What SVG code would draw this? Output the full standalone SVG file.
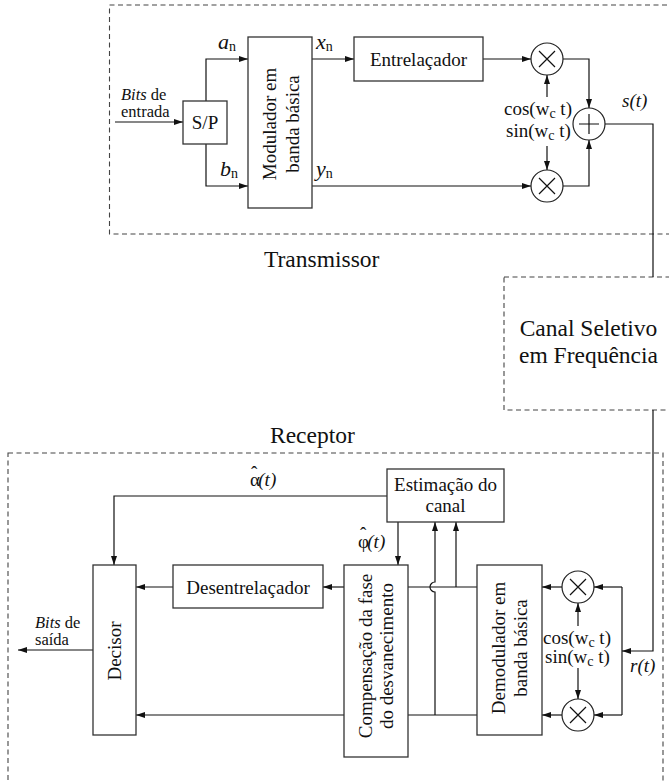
<svg xmlns="http://www.w3.org/2000/svg" width="669" height="783" viewBox="0 0 669 783">
<style>
text{font-family:"Liberation Serif","Times New Roman",serif;fill:#111}
.t{font-size:19px}
.s{font-size:16.5px}
.b{font-size:23.5px}
.i{font-style:italic}
.v{font-size:22px;font-style:italic}
.sub{font-size:14px;font-style:normal}
.box{fill:#fff;stroke:#333;stroke-width:1.3}
.dash{fill:none;stroke:#444;stroke-width:1.1;stroke-dasharray:5 3.5}
.ln{fill:none;stroke:#111;stroke-width:1.2}
.ar{fill:none;stroke:#111;stroke-width:1.2;marker-end:url(#ah)}
.op{fill:#fff;stroke:#222;stroke-width:1.2}
</style>
<defs>
<marker id="ah" markerUnits="userSpaceOnUse" markerWidth="10" markerHeight="8" refX="9" refY="3" orient="auto">
<path d="M0,0 L9,3 L0,6 z" fill="#111"/>
</marker>
</defs>

<g id="frames">
<rect class="dash" x="109.5" y="5" width="570" height="229"/>
<rect class="dash" x="504" y="277" width="180" height="133"/>
<rect class="dash" x="8" y="453" width="655" height="350"/>
<text class="b" x="264" y="267">Transmissor</text>
<text class="b" x="270" y="443">Receptor</text>
<text class="b" text-anchor="middle"><tspan x="588.5" y="336">Canal Seletivo</tspan><tspan x="588.5" y="363">em Frequência</tspan></text>
</g>

<g id="connectors">
<path class="ar" d="M115,122 H183"/>
<path class="ar" d="M206,101 V59 H248"/>
<path class="ar" d="M206,144 V186 H248"/>
<path class="ar" d="M312,59 H354"/>
<path class="ar" d="M483,59 H531"/>
<path class="ar" d="M312,186 H531"/>
<path class="ar" d="M563,59 H589 V108"/>
<path class="ar" d="M563,186 H589 V140"/>
<path class="ar" d="M547,97 V75"/>
<path class="ar" d="M547,146 V170"/>
<path class="ln" d="M605,124 H653 V277"/>
<path class="ar" d="M653,410 V651 H622"/>
<path class="ln" d="M622,587 V715"/>
<path class="ar" d="M622,587 H594"/>
<path class="ar" d="M622,715 H594"/>
<path class="ar" d="M562,587 H542"/>
<path class="ar" d="M562,715 H542"/>
<path class="ar" d="M578,626 V603"/>
<path class="ar" d="M578,668 V699"/>
<path class="ln" d="M477,587 H408"/>
<path class="ln" d="M477,715 H408"/>
<path class="ar" d="M456,587 V522"/>
<path class="ar" d="M435,715 V592 A5,5 0 0 1 435,582 V522"/>
<path class="ar" d="M398,522 V565"/>
<path class="ar" d="M387,496 H114 V565"/>
<path class="ar" d="M344,587 H323"/>
<path class="ar" d="M344,715 H136"/>
<path class="ar" d="M173,587 H136"/>
<path class="ar" d="M93,650 H18"/>
</g>

<g id="labels">
<text class="s"><tspan x="121" y="100"><tspan class="i">Bits</tspan> de</tspan><tspan x="121" y="116.5">entrada</tspan></text>
<text x="218" y="49" class="v">a<tspan class="sub" dy="2">n</tspan></text>
<text x="220" y="176" class="v">b<tspan class="sub" dy="2">n</tspan></text>
<text x="316" y="49" class="v">x<tspan class="sub" dy="2">n</tspan></text>
<text x="316" y="176" class="v">y<tspan class="sub" dy="2">n</tspan></text>
<text class="t" x="504" y="115">cos(w<tspan dy="3" style="font-size:14px">c</tspan><tspan dy="-3"> t)</tspan></text>
<text class="t" x="506" y="137">sin(w<tspan dy="3" style="font-size:14px">c</tspan><tspan dy="-3"> t)</tspan></text>
<text class="t i" x="622" y="107">s(t)</text>
<text class="t" x="543" y="644">cos(w<tspan dy="3" style="font-size:14px">c</tspan><tspan dy="-3"> t)</tspan></text>
<text class="t" x="545" y="663">sin(w<tspan dy="3" style="font-size:14px">c</tspan><tspan dy="-3"> t)</tspan></text>
<text class="t i" x="630" y="672">r(t)</text>
<text class="t" x="250" y="486">α<tspan dx="-9" dy="-7">ˆ</tspan><tspan class="i" dx="1" dy="7">(t)</tspan></text>
<text class="t" x="358" y="548">φ<tspan dx="-9" dy="-8">ˆ</tspan><tspan class="i" dx="1" dy="8">(t)</tspan></text>
<text class="s"><tspan x="35" y="628"><tspan class="i">Bits</tspan> de</tspan><tspan x="35" y="644.5">saída</tspan></text>
</g>

<g id="sp">
<rect class="box" x="183" y="101" width="44" height="43"/>
<text class="t" x="205" y="129" text-anchor="middle">S/P</text>
</g>
<g id="modulador">
<rect class="box" x="248" y="37" width="64" height="171"/>
<text class="t" text-anchor="middle" transform="translate(280,124) rotate(-90)"><tspan x="0" y="-4.5">Modulador em</tspan><tspan x="0" y="18.5">banda básica</tspan></text>
</g>
<g id="entrelacador">
<rect class="box" x="354" y="37" width="129" height="44"/>
<text class="t" x="418.5" y="66" text-anchor="middle">Entrelaçador</text>
</g>
<g id="mult-tx-cos">
<circle class="op" cx="547" cy="59" r="16"/>
<path class="ln" d="M539,51 L555,67 M555,51 L539,67"/>
</g>
<g id="mult-tx-sin">
<circle class="op" cx="547" cy="186" r="16"/>
<path class="ln" d="M539,178 L555,194 M555,178 L539,194"/>
</g>
<g id="soma">
<circle class="op" cx="589" cy="124" r="16"/>
<path class="ln" d="M579,124 H599 M589,114 V134"/>
</g>

<g id="mult-rx-cos">
<circle class="op" cx="578" cy="587" r="16"/>
<path class="ln" d="M570,579 L586,595 M586,579 L570,595"/>
</g>
<g id="mult-rx-sin">
<circle class="op" cx="578" cy="715" r="16"/>
<path class="ln" d="M570,707 L586,723 M586,707 L570,723"/>
</g>
<g id="demodulador">
<rect class="box" x="477" y="565" width="65" height="170"/>
<text class="t" text-anchor="middle" transform="translate(509.5,648) rotate(-90)"><tspan x="0" y="-4.5">Demodulador em</tspan><tspan x="0" y="17.5">banda básica</tspan></text>
</g>
<g id="estimacao">
<rect class="box" x="387" y="469" width="117" height="53"/>
<text class="t" text-anchor="middle"><tspan x="445.5" y="491">Estimação do</tspan><tspan x="445.5" y="512">canal</tspan></text>
</g>
<g id="compensacao">
<rect class="box" x="344" y="565" width="64" height="192"/>
<text class="t" text-anchor="middle" transform="translate(376,656) rotate(-90)"><tspan x="0" y="-4">Compensação da fase</tspan><tspan x="0" y="17">do desvanecimento</tspan></text>
</g>
<g id="desentrelacador">
<rect class="box" x="173" y="565" width="150" height="43"/>
<text class="t" x="248" y="594" text-anchor="middle">Desentrelaçador</text>
</g>
<g id="decisor">
<rect class="box" x="93" y="565" width="43" height="170"/>
<text class="t" text-anchor="middle" transform="translate(114.5,651) rotate(-90)" x="0" y="6.5">Decisor</text>
</g>
</svg>
